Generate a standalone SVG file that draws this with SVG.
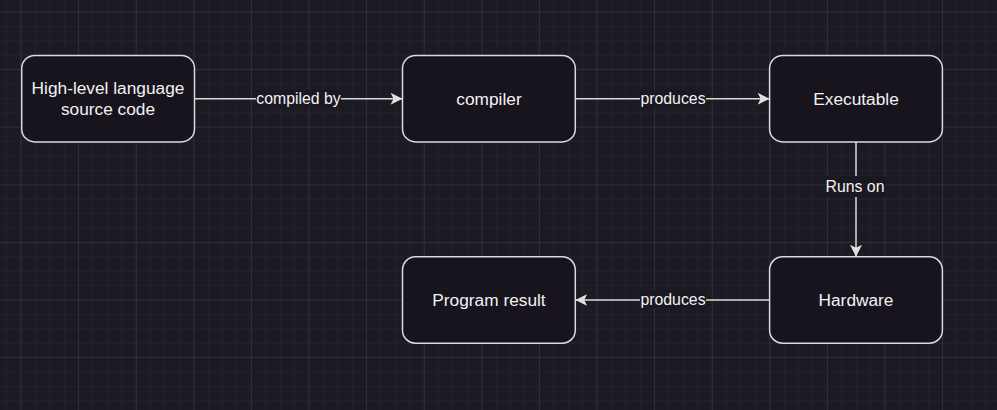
<svg xmlns="http://www.w3.org/2000/svg" width="997" height="410" viewBox="0 0 997 410">
  <defs>
    <pattern id="minor" patternUnits="userSpaceOnUse" x="6.1" y="11.5" width="14.4" height="14.4">
      <path d="M0,0 V14.4 M0,0 H14.4" fill="none" stroke="#29272f" stroke-width="1"/>
    </pattern>
    <pattern id="major" patternUnits="userSpaceOnUse" x="20.5" y="11.5" width="57.6" height="57.6">
      <path d="M0,0 V57.6 M0,0 H57.6" fill="none" stroke="#3b3a42" stroke-width="1"/>
    </pattern>
    <marker id="arrow" markerUnits="userSpaceOnUse" viewBox="0 0 12 12" refX="12" refY="6" markerWidth="12" markerHeight="12" orient="auto">
      <path d="M0,0 L12,6 L0,12 L3,6 Z" fill="#e0e0e0"/>
    </marker>
  </defs>
  <style>
    .node rect { fill: #18141d; stroke: #dadada; stroke-width: 1.5; }
    .node text { font-family: "Liberation Sans", Arial, sans-serif; font-size: 17.3px; fill: #f2f2f2; text-anchor: middle; dominant-baseline: central; }
    .edge { fill: none; stroke: #dadada; stroke-width: 1.5; marker-end: url(#arrow); }
    .lbg { fill: #1a1820; }
    .lbl { font-family: "Liberation Sans", Arial, sans-serif; font-size: 15.84px; fill: #f2f2f2; text-anchor: middle; dominant-baseline: central; }
  </style>
  <rect x="0" y="0" width="997" height="410" fill="#1c1a22"/>
  <rect x="0" y="0" width="997" height="410" fill="url(#minor)"/>
  <rect x="0" y="0" width="997" height="410" fill="url(#major)"/>

  <g id="connectors">
    <path class="edge" d="M194.5,98.7 H402.5"/>
    <rect class="lbg" x="256" y="89.5" width="85" height="18"/>
    <text class="lbl" x="298.5" y="98.5">compiled by</text>

    <path class="edge" d="M575.3,98.7 H769.6"/>
    <rect class="lbg" x="640" y="89.5" width="66" height="18"/>
    <text class="lbl" x="673" y="98.5">produces</text>

    <path class="edge" d="M856,141.9 V256.8"/>
    <rect class="lbg" x="826" y="176" width="60" height="21"/>
    <text class="lbl" x="855" y="186">Runs on</text>

    <path class="edge" d="M769.6,300 H575.3"/>
    <rect class="lbg" x="640" y="290" width="66" height="18"/>
    <text class="lbl" x="673" y="299">produces</text>
  </g>

  <g id="node-source" class="node">
    <rect x="21.7" y="55.5" width="172.8" height="86.4" rx="13" ry="13"/>
    <text x="108" y="88.3">High-level language</text>
    <text x="108" y="109">source code</text>
  </g>
  <g id="node-compiler" class="node">
    <rect x="402.5" y="55.5" width="172.8" height="86.4" rx="13" ry="13"/>
    <text x="489" y="98.7">compiler</text>
  </g>
  <g id="node-executable" class="node">
    <rect x="769.6" y="55.5" width="172.8" height="86.4" rx="13" ry="13"/>
    <text x="856" y="98.7">Executable</text>
  </g>
  <g id="node-hardware" class="node">
    <rect x="769.6" y="256.8" width="172.8" height="86.4" rx="13" ry="13"/>
    <text x="856" y="300">Hardware</text>
  </g>
  <g id="node-result" class="node">
    <rect x="402.5" y="256.8" width="172.8" height="86.4" rx="13" ry="13"/>
    <text x="489" y="300">Program result</text>
  </g>
</svg>
